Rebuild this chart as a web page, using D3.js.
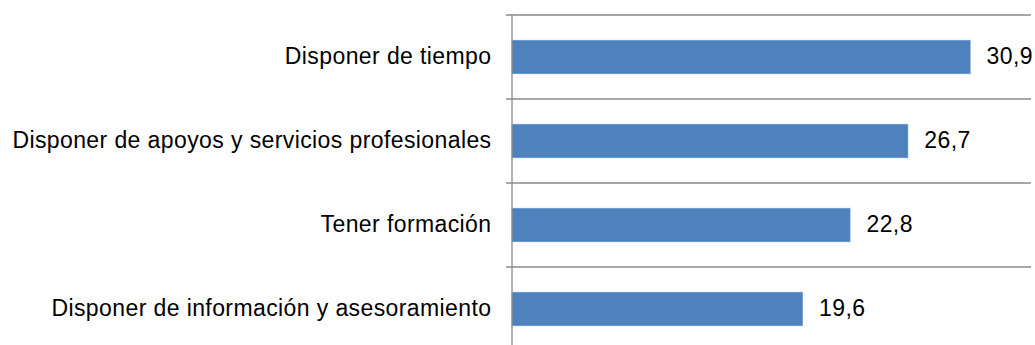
<!DOCTYPE html>
<html>
<head>
<meta charset="utf-8">
<script src="https://cdn.jsdelivr.net/npm/d3@7"></script>
<style>
  html, body { margin: 0; padding: 0; background: #ffffff; }
  svg { display: block; }
  text { font-family: "Liberation Sans", Arial, sans-serif; fill: #000000; letter-spacing: 0.4px; }
</style>
</head>
<body>
<svg id="chart" width="1035" height="345"></svg>
<script>
// Categories (top to bottom) and their percentages
const categories = [
  "Disponer de tiempo",
  "Disponer de apoyos y servicios profesionales",
  "Tener formación",
  "Disponer de información y asesoramiento"
];
const values = [30.9, 26.7, 22.8, 19.6];
const xDomainMax = 35;

const svg = d3.select("#chart");

const axisX = 512;
const x = d3.scaleLinear().domain([0, xDomainMax]).range([axisX, 1031]);
const y = d3.scaleBand()
  .domain(categories)
  .range([15, 351])
  .paddingInner(0.6)
  .paddingOuter(0.3);

const fmt = v => d3.format(".1f")(v).replace(".", ",");
const fontSize = 23;
const gridColor = "#8a8a8a";

// Horizontal separators between categories (with small tick to the left of the axis)
const step = y.step();
const boundaries = categories.map((c, i) => y.range()[0] + i * step);
svg.append("g").selectAll("line")
  .data(boundaries)
  .join("line")
  .attr("x1", axisX - 6)
  .attr("x2", x(xDomainMax))
  .attr("y1", d => d)
  .attr("y2", d => d)
  .attr("stroke", gridColor)
  .attr("stroke-width", 1.3);

// Bars
svg.append("g").selectAll("rect")
  .data(categories)
  .join("rect")
  .attr("x", x(0))
  .attr("y", d => y(d))
  .attr("width", (d, i) => x(values[i]) - x(0))
  .attr("height", y.bandwidth())
  .attr("fill", "#4f81bd")
  .attr("stroke", "#6f9bd0")
  .attr("stroke-width", 0.6);

// Vertical category axis line
svg.append("line")
  .attr("x1", axisX).attr("x2", axisX)
  .attr("y1", y.range()[0]).attr("y2", y.range()[1])
  .attr("stroke", gridColor)
  .attr("stroke-width", 1.3);

// Category labels
svg.append("g").selectAll("text")
  .data(categories)
  .join("text")
  .attr("x", 491.5)
  .attr("y", d => y(d) + y.bandwidth() / 2)
  .attr("dy", "0.29em")
  .attr("text-anchor", "end")
  .attr("font-size", fontSize)
  .text(d => d);

// Value labels
svg.append("g").selectAll("text")
  .data(categories)
  .join("text")
  .attr("x", (d, i) => x(values[i]) + 16.4)
  .attr("y", d => y(d) + y.bandwidth() / 2)
  .attr("dy", "0.29em")
  .attr("font-size", fontSize)
  .text((d, i) => fmt(values[i]));
</script>
</body>
</html>
